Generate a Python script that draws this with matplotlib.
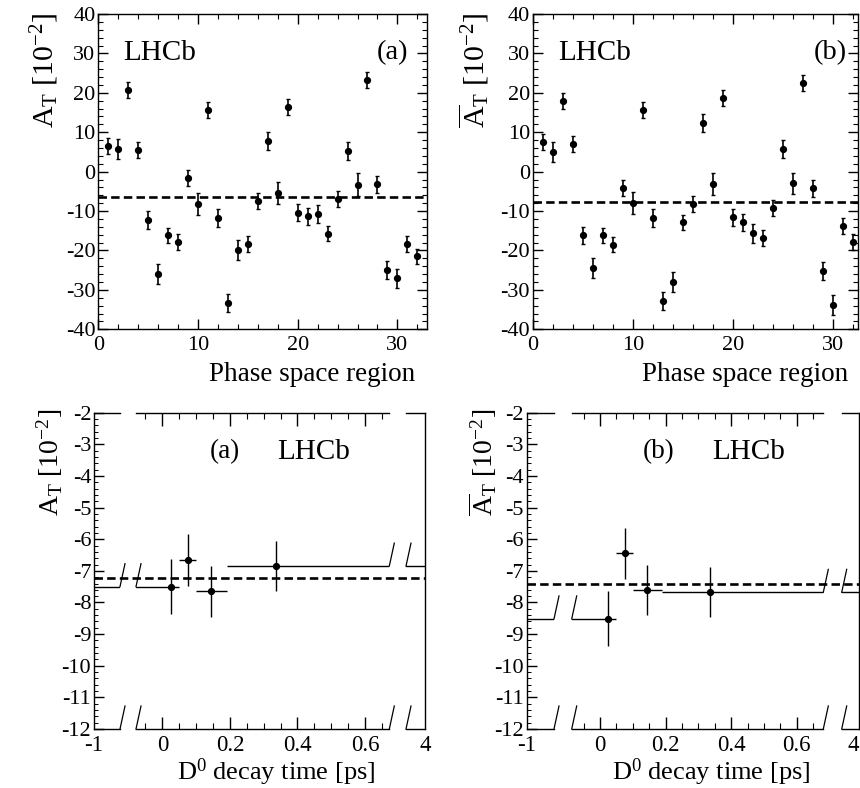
import numpy as np
import matplotlib
matplotlib.use("Agg")
import matplotlib.pyplot as plt
from matplotlib.ticker import MultipleLocator, NullLocator
from matplotlib.lines import Line2D
import matplotlib.transforms as mtransforms

plt.rcParams['font.family'] = ['Liberation Serif', 'DejaVu Serif']
plt.rcParams['mathtext.fontset'] = 'custom'
plt.rcParams['mathtext.rm'] = 'Liberation Serif'
plt.rcParams['mathtext.it'] = 'Liberation Serif:italic'
plt.rcParams['axes.unicode_minus'] = False

# ---------------- data ----------------
region = np.arange(1, 33)
at_a = [6.5, 5.75, 20.7, 5.5, -12.3, -26.0, -16.2, -17.8, -1.6, -8.2, 15.6, -11.8,
        -33.4, -19.9, -18.3, -7.4, 7.7, -5.5, 16.4, -10.4, -11.3, -10.7, -15.7, -6.9,
        5.2, -3.3, 23.3, -3.2, -24.95, -27.1, -18.35, -21.5]
at_a_err = [2.1, 2.5, 2.0, 2.0, 2.3, 2.5, 2.0, 2.0, 2.0, 2.8, 2.0, 2.3, 2.3, 2.5, 2.0, 2.0,
            2.3, 2.8, 2.0, 2.1, 2.2, 2.3, 2.0, 2.0, 2.3, 3.0, 2.0, 2.2, 2.3, 2.5, 2.0, 2.0]
at_b = [7.5, 4.9, 18.0, 7.0, -16.2, -24.4, -16.2, -18.5, -4.1, -7.9, 15.6, -11.8,
        -32.8, -28.0, -12.9, -8.2, 12.4, -3.1, 18.6, -11.6, -12.9, -15.6, -16.9, -9.2,
        5.7, -3.0, 22.5, -4.2, -25.3, -33.9, -13.7, -17.8]
at_b_err = [2.1, 2.5, 2.0, 2.0, 2.2, 2.5, 2.0, 2.0, 2.0, 2.8, 2.0, 2.2, 2.3, 2.5, 2.0, 2.0,
            2.3, 2.7, 2.0, 2.1, 2.2, 2.4, 2.0, 2.0, 2.3, 2.7, 2.0, 2.2, 2.3, 2.5, 2.0, 2.0]
at_a_mean = -6.4
at_b_mean = -7.8

t_center = np.array([0.025, 0.077, 0.143, 0.337])
t_lo = np.array([-1.0, 0.05, 0.10, 0.19])
t_hi = np.array([0.05, 0.10, 0.19, 4.0])
tt_a = [-7.50, -6.67, -7.65, -6.85]
tt_a_err = [0.87, 0.82, 0.81, 0.78]
tt_b = [-8.52, -6.45, -7.60, -7.68]
tt_b_err = [0.87, 0.82, 0.80, 0.79]
tt_a_mean = -7.22
tt_b_mean = -7.40

# ---------------- figure ----------------
W, H = 860, 788
fig = plt.figure(figsize=(W / 100, H / 100), dpi=100)


def rect(l, r, t, b):
    return [l / W, 1 - b / H, (r - l) / W, (b - t) / H]


def top_panel(l, r, xmax, y, yerr, mean):
    ax = fig.add_axes(rect(l, r, 14, 329.3))
    ax.errorbar(region, y, yerr=yerr, fmt='o', color='k', ms=4.2,
                elinewidth=1.2, capsize=1.6, capthick=1.0)
    ax.axhline(mean, color='k', ls=(0, (3.2, 1.6)), lw=1.9)
    ax.set_xlim(0, xmax)
    ax.set_ylim(-40, 40)
    ax.xaxis.set_major_locator(MultipleLocator(10))
    ax.xaxis.set_minor_locator(MultipleLocator(2))
    ax.yaxis.set_major_locator(MultipleLocator(10))
    ax.yaxis.set_minor_locator(MultipleLocator(2))
    ax.tick_params(which='both', direction='in', top=True, right=True, labelsize=16)
    ax.tick_params(which='major', length=7, width=1)
    ax.tick_params(which='minor', length=3.5, width=0.8)
    ax.tick_params(axis='x', pad=5)
    ax.tick_params(axis='y', pad=2)
    for s in ax.spines.values():
        s.set_linewidth(1.0)
    return ax


top_panel(98.3, 427.3, 33, at_a, at_a_err, at_a_mean)
top_panel(532.7, 858.0, 32.5, at_b, at_b_err, at_b_mean)

fig.text(123 / W, 1 - 53 / H, 'LHCb', ha='left', va='center', size=21)
fig.text(408 / W, 1 - 53 / H, '(a)', ha='right', va='center', size=20.5)
fig.text(558 / W, 1 - 53 / H, 'LHCb', ha='left', va='center', size=21)
fig.text(847 / W, 1 - 53 / H, '(b)', ha='right', va='center', size=20.5)

fig.text(45 / W, 1 - 12 / H, r'$\mathrm{A}_{\mathrm{T}}$ [10$^{-2}$]', rotation=90,
         ha='center', va='top', size=21.5)
fig.text(474 / W, 1 - 12 / H, r'$\overline{\mathrm{A}}_{\mathrm{T}}$ [10$^{-2}$]', rotation=90,
         ha='center', va='top', size=21.5)
fig.text(415 / W, 1 - 381 / H, 'Phase space region', ha='right', va='baseline', size=19.5)
fig.text(848 / W, 1 - 381 / H, 'Phase space region', ha='right', va='baseline', size=19.5)


def bottom_panel(segs, mid_xlim, y, yerr, mean):
    t, b = 412.7, 729.0
    xlims = [(-1.0, -0.95), mid_xlim, (3.95, 4.0)]
    axs = []
    xerr = [t_center - t_lo, t_hi - t_center]
    py = (b - t) / 10.0  # px per unit
    dy = 23.0 / py
    for k, ((l, r), xl) in enumerate(zip(segs, xlims)):
        ax = fig.add_axes(rect(l, r, t, b))
        ax.set_facecolor('none')
        ax.set_xlim(*xl)
        ax.set_ylim(-12, -2)
        ax.errorbar(t_center, y, yerr=yerr, xerr=xerr, fmt='o', color='k', ms=4.2,
                    elinewidth=1.0, capsize=0)
        for s in ax.spines.values():
            s.set_linewidth(1.0)
        ax.tick_params(which='both', direction='in', labelsize=16.5)
        ax.tick_params(axis='y', labelsize=16)
        if k == 0:
            ax.spines['right'].set_visible(False)
            ax.yaxis.set_major_locator(MultipleLocator(1))
            ax.yaxis.set_minor_locator(MultipleLocator(0.2))
            ax.tick_params(axis='y', which='major', length=7, width=1, pad=2)
            ax.tick_params(axis='y', which='minor', length=3, width=0.7)
            ax.set_xticks([-1.0])
            ax.set_xticklabels(['-1'])
            ax.tick_params(axis='x', length=0, pad=4)
        elif k == 1:
            ax.spines['left'].set_visible(False)
            ax.spines['right'].set_visible(False)
            ax.yaxis.set_major_locator(NullLocator())
            ax.yaxis.set_minor_locator(NullLocator())
            ax.xaxis.set_major_locator(MultipleLocator(0.2))
            ax.xaxis.set_minor_locator(MultipleLocator(0.05))
            ax.set_xticks([0, 0.2, 0.4, 0.6])
            ax.set_xticklabels(['0', '0.2', '0.4', '0.6'])
            ax.tick_params(axis='x', which='both', top=True)
            ax.tick_params(axis='x', which='major', length=9, width=1, pad=4)
            ax.tick_params(axis='x', which='minor', length=4.5, width=0.8)
        else:
            ax.spines['left'].set_visible(False)
            ax.yaxis.set_major_locator(NullLocator())
            ax.yaxis.set_minor_locator(NullLocator())
            ax.set_xticks([4.0])
            ax.set_xticklabels(['4'])
            ax.tick_params(axis='x', length=0, pad=4)
            if r > W - 6:
                for lab in ax.get_xticklabels():
                    lab.set_horizontalalignment('right')
        axs.append((ax, r - l))

    def slash(ax, wpx, xf, yv):
        dxf = 5.0 / wpx
        ax.plot([xf, xf + dxf], [yv, yv + dy], transform=ax.get_yaxis_transform(),
                color='k', lw=0.9, clip_on=False)

    (a0, w0), (a1, w1), (a2, w2) = axs
    ys1 = [-12.0] + [y[i] for i in range(len(y)) if t_lo[i] < xlims[0][1]]
    ys2 = [-12.0] + [y[i] for i in range(len(y)) if t_hi[i] > xlims[2][0]]
    for yv in ys1:
        slash(a0, w0, 1.0, yv)
        slash(a1, w1, 0.0, yv)
    for yv in ys2:
        slash(a1, w1, 1.0, yv)
        slash(a2, w2, 0.0, yv)

    trans = mtransforms.blended_transform_factory(fig.transFigure, a1.transData)
    fig.add_artist(Line2D([segs[0][0] / W, segs[2][1] / W], [mean, mean], transform=trans,
                          color='k', ls=(0, (3.2, 1.6)), lw=1.9))
    return axs


bottom_panel([(94, 120), (136, 389.3), (406, 425)], (-0.078, 0.672), tt_a, tt_a_err, tt_a_mean)
bottom_panel([(526.7, 554), (571.7, 823.3), (841.7, 859)], (-0.086, 0.681), tt_b, tt_b_err, tt_b_mean)

fig.text(210 / W, 1 - 452 / H, '(a)', ha='left', va='center', size=19.5)
fig.text(277 / W, 1 - 452 / H, 'LHCb', ha='left', va='center', size=21)
fig.text(643 / W, 1 - 452 / H, '(b)', ha='left', va='center', size=19.5)
fig.text(712 / W, 1 - 452 / H, 'LHCb', ha='left', va='center', size=21)

fig.text(50 / W, 1 - 409 / H, r'$\mathrm{A}_{\mathrm{T}}$ [10$^{-2}$]', rotation=90,
         ha='center', va='top', size=20)
fig.text(483 / W, 1 - 409 / H, r'$\overline{\mathrm{A}}_{\mathrm{T}}$ [10$^{-2}$]', rotation=90,
         ha='center', va='top', size=20)
fig.text(375 / W, 1 - 780 / H, r'D$^{0}$ decay time [ps]', ha='right', va='baseline', size=19)
fig.text(810 / W, 1 - 780 / H, r'D$^{0}$ decay time [ps]', ha='right', va='baseline', size=19)

fig.savefig('out.png', dpi=100)
